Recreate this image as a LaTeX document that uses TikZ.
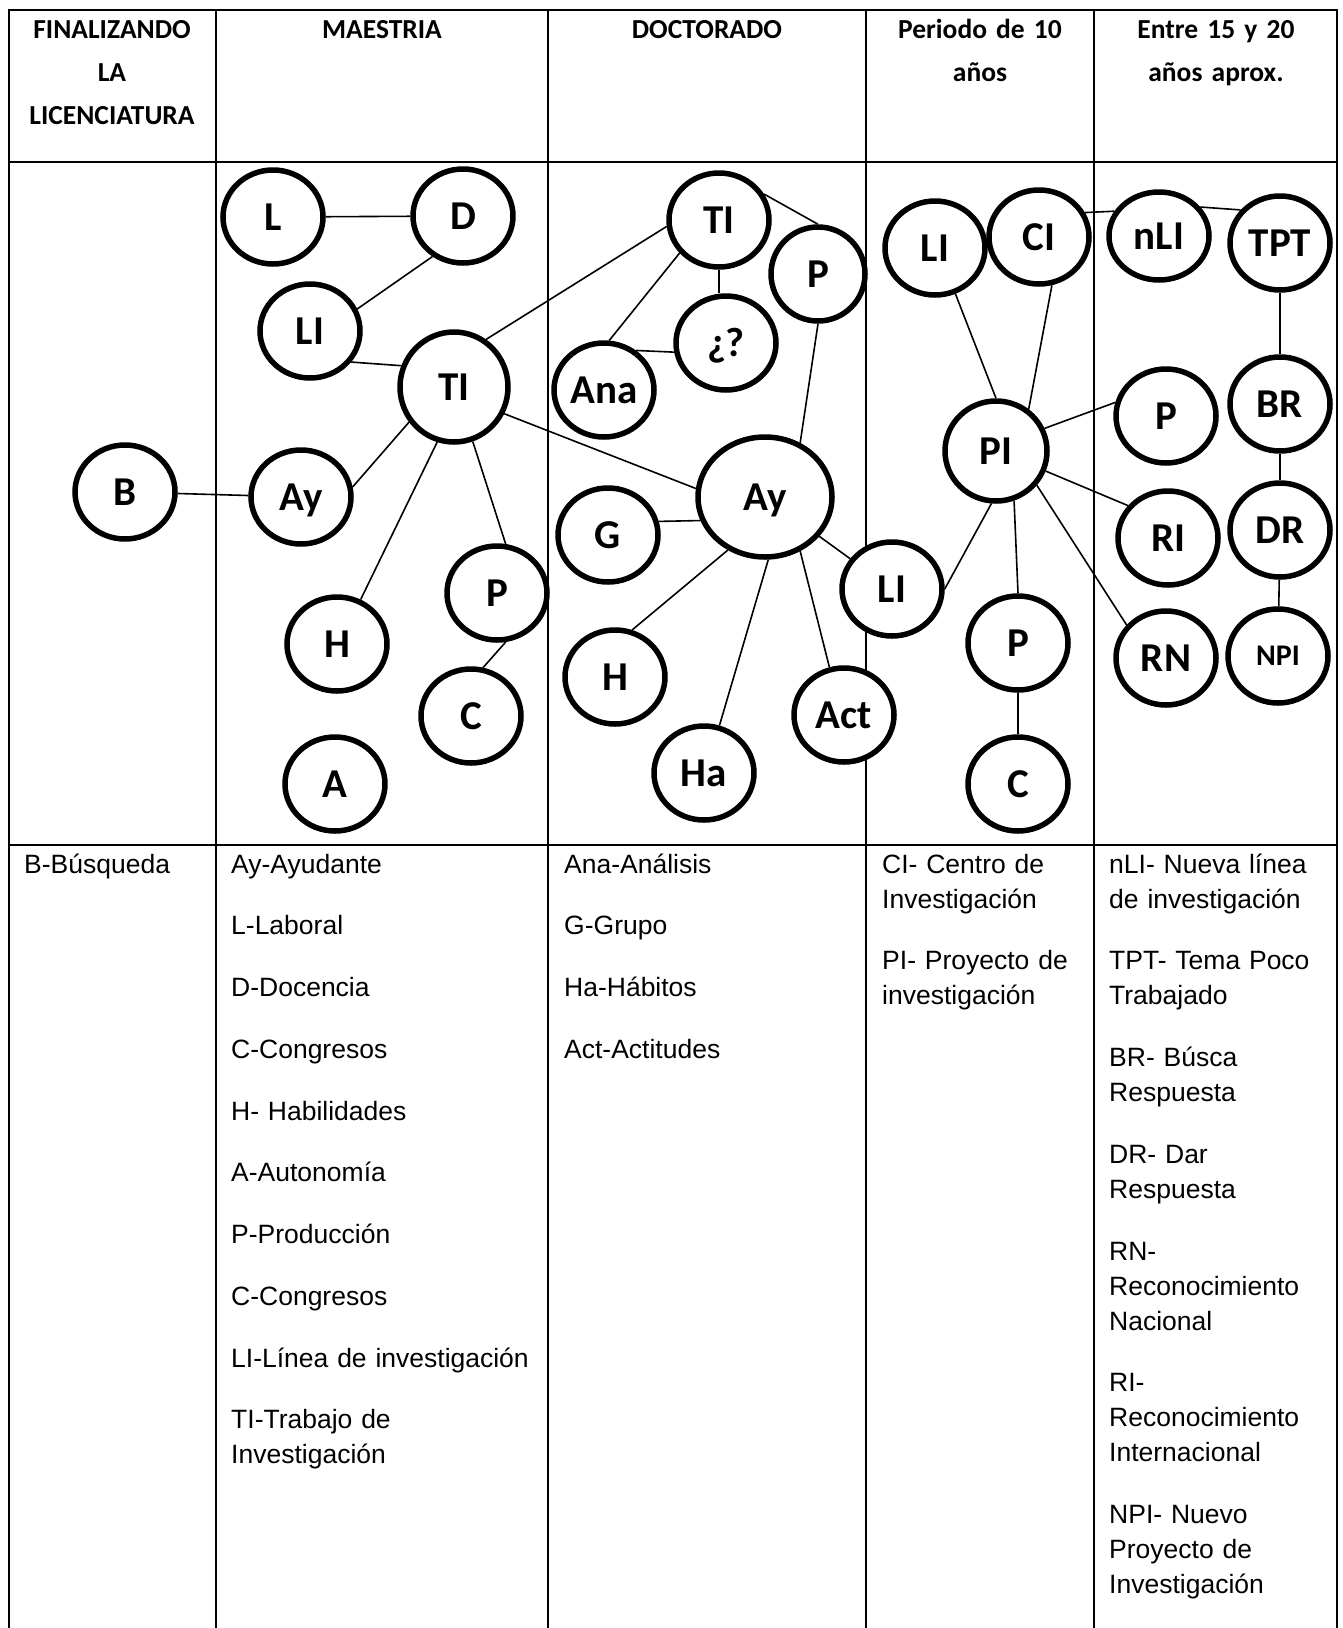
\documentclass[tikz,border=0pt]{standalone}
\usepackage{fontspec}
\setmainfont{Liberation Sans}
\newfontfamily\carlito{Carlito}
\usetikzlibrary{shapes.geometric}
\newcommand{\salto}{\\[26.75pt]}
\tikzset{
	nodo/.style={
			ellipse, draw, line width=5.5pt, fill=white, inner sep=0pt,
			minimum width=100pt, minimum height=94pt,
			font=\carlito\bfseries\fontsize{41}{41}\selectfont,
			text height=26.4pt, text depth=0pt
		},
	enlace/.style={line width=1.6pt},
	rejilla/.style={line width=2pt},
	cabecera/.style={anchor=base, text width=220pt, align=center, inner sep=0pt,
			font=\carlito\bfseries\fontsize{27.5}{43}\selectfont},
	leyenda/.style={anchor=base west, text width=300pt, align=left, inner sep=0pt,
			font=\fontsize{26.5}{35}\selectfont}
}

\begin{document}
\begin{tikzpicture}[x=1pt, y=-1pt]
		\fill[white] (0,0) rectangle (1342,1628);
		\useasboundingbox (0,0) rectangle (1342,1628);

		\draw[rejilla] (8,10) -- (1338,10);
		\draw[rejilla] (8,162) -- (1338,162);
		\draw[rejilla] (8,845) -- (1338,845);
		\foreach \x in {9,216,548,866,1094,1337}
			\draw[rejilla] (\x,10) -- (\x,1628);

		\node[cabecera] (hLic) at (112,38) {FINALIZANDO\\LA\\LICENCIATURA};
		\node[cabecera] (hMae) at (382,38) {MAESTRIA};
		\node[cabecera] (hDoc) at (707,38) {DOCTORADO};
		\node[cabecera] (hPer) at (980,38) {Periodo de 10\\años};
		\node[cabecera] (hEnt) at (1216,38) {Entre 15 y 20\\años aprox.};

		\node[nodo] (b) at (125,492) {B};

		\node[nodo] (mL) at (273,217) {L};
		\node[nodo] (mD) at (463,216) {D};
		\node[nodo] (mLI) at (310,331) {LI};
		\node[nodo, minimum width=108pt, minimum height=110pt] (mTI) at (454,387) {TI};
		\node[nodo] (mAy) at (301,497) {Ay};
		\node[nodo] (mP) at (497,593) {P};
		\node[nodo] (mH) at (337,644) {H};
		\node[nodo] (mC) at (471,716) {C};
		\node[nodo] (mA) at (335,784) {A};

		\node[nodo] (dTI) at (719,220) {TI};
		\node[nodo, minimum width=94pt] (dP) at (818,274) {P};
		\node[nodo] (dQ) at (726,343) {¿?};
		\node[nodo] (dAna) at (604,390) {Ana};
		\node[nodo, minimum width=134pt, minimum height=120pt] (dAy) at (765,497) {Ay};
		\node[nodo] (dG) at (608,535) {G};
		\node[nodo] (dH) at (615,677) {H};
		\node[nodo] (dHa) at (704,773) {Ha};
		\node[nodo] (dAct) at (844,715) {Act};
		\node[nodo] (dLI) at (892,589) {LI};

		\node[nodo] (pLI) at (935,248) {LI};
		\node[nodo] (pCI) at (1039,237) {CI};
		\node[nodo, minimum width=102pt, minimum height=100pt] (pPI) at (996,451) {PI};
		\node[nodo] (pP) at (1018,643) {P};
		\node[nodo] (pC) at (1018,784) {C};

		\node[nodo, minimum height=88pt] (eNLI) at (1159,236) {nLI};
		\node[nodo] (eTPT) at (1280,243) {TPT};
		\node[nodo] (eP) at (1166,416) {P};
		\node[nodo] (eBR) at (1280,404) {BR};
		\node[nodo] (eRI) at (1168,538) {RI};
		\node[nodo] (eDR) at (1280,530) {DR};
		\node[nodo] (eRN) at (1166,658) {RN};
		\node[nodo, font=\carlito\bfseries\fontsize{30}{30}\selectfont, text height=19.3pt] (eNPI) at (1278,656) {NPI};

		\draw[enlace] (b) -- (mAy);
		\draw[enlace] (mL) -- (mD);
		\draw[enlace] (mD.233) -- (mLI.25);
		\draw[enlace] (mLI.323) -- (mTI.158);
		\draw[enlace] (mTI.218) -- (mAy.11);
		\draw[enlace] (mTI.253) -- (mH.62);
		\draw[enlace] (mTI.289) -- (mP.80);
		\draw[enlace] (mP.280) -- (mC.76);
		\draw[enlace] (mTI.56) -- (dTI.187);
		\draw[enlace] (mTI.332) -- (dAy.173);

		\draw[enlace] (dTI.30) -- (dP.north);
		\draw[enlace] (dTI.south) -- (dQ.north -| dTI.south);
		\draw[enlace] (dTI.220) -- (dAna.84);
		\draw[enlace] (dAna.51) -- (dQ.190);
		\draw[enlace] (dP.south) -- (dAy.57);
		\draw[enlace] (dG.15) -- (dAy.200);
		\draw[enlace] (dAy.235) -- (dH.70);
		\draw[enlace] (dAy.273) -- (dHa.72);
		\draw[enlace] (dAy.303) -- (dAct.107);
		\draw[enlace] (dAy) -- (dLI);
		\draw[enlace] (dLI.east) -- (pPI.265);

		\draw[enlace] (pLI.294) -- (pPI.north);
		\draw[enlace] (pCI.285) -- (pPI.52);
		\draw[enlace] (pPI.290) -- (pP.north);
		\draw[enlace] (pP) -- (pC);
		\draw[enlace] (pPI.25) -- (eP.165);
		\draw[enlace] (pPI.338) -- (eRI.141);
		\draw[enlace] (pPI.320) -- (eRN.140);
		\draw[enlace] (pCI.28) -- (eNLI.151);

		\draw[enlace] (eNLI.35) -- (eTPT.140);
		\draw[enlace] (eTPT) -- (eBR);
		\draw[enlace] (eBR) -- (eDR);
		\draw[enlace] (eDR) -- (eNPI);

		\node[leyenda] (leyLic) at (24,873) {B-Búsqueda};
		\node[leyenda] (leyMae) at (231,873) {Ay-Ayudante\salto L-Laboral\salto D-Docencia\salto C-Congresos\salto H- Habilidades\salto A-Autonomía\salto P-Producción\salto C-Congresos\salto LI-Línea de investigación\salto TI-Trabajo de\\Investigación};
		\node[leyenda] (leyDoc) at (564,873) {Ana-Análisis\salto G-Grupo\salto Ha-Hábitos\salto Act-Actitudes};
		\node[leyenda] (leyPer) at (882,873) {CI- Centro de\\Investigación\salto PI- Proyecto de\\investigación};
		\node[leyenda] (leyEnt) at (1109,873) {nLI- Nueva línea\\de investigación\salto TPT- Tema Poco\\Trabajado\salto BR- Búsca\\Respuesta\salto DR- Dar\\Respuesta\salto RN-\\Reconocimiento\\Nacional\salto RI-\\Reconocimiento\\Internacional\salto NPI- Nuevo\\Proyecto de\\Investigación};
	\end{tikzpicture}
\end{document}
